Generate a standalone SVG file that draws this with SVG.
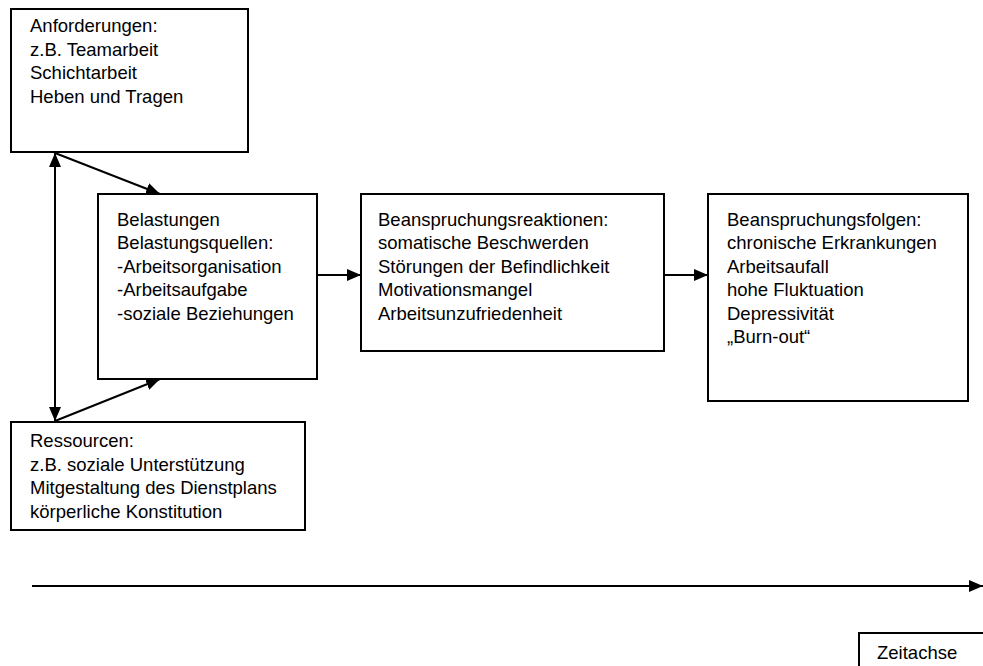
<svg xmlns="http://www.w3.org/2000/svg" width="983" height="666" viewBox="0 0 983 666">
<style>
.box{fill:#fff;stroke:#000;stroke-width:2}
.t{font-family:"Liberation Sans",Arial,sans-serif;font-size:18.5px;fill:#000}
.c{stroke:#000;stroke-width:2;fill:none}
</style>
<defs>
<marker id="ah" viewBox="0 0 14 12" refX="14" refY="6" markerWidth="14" markerHeight="12" markerUnits="userSpaceOnUse" orient="auto-start-reverse">
<path d="M0,0 L14,6 L0,12 Z" fill="#000"/>
</marker>
</defs>
<rect width="983" height="666" fill="#fff"/>
<g id="connectors">
<line class="c" x1="55" y1="153" x2="55" y2="421" marker-start="url(#ah)" marker-end="url(#ah)"/>
<line class="c" x1="55" y1="153" x2="160" y2="194" marker-end="url(#ah)"/>
<line class="c" x1="55" y1="421" x2="160" y2="379" marker-end="url(#ah)"/>
<line class="c" x1="317" y1="275" x2="361" y2="275" marker-end="url(#ah)"/>
<line class="c" x1="664" y1="275" x2="708" y2="275" marker-end="url(#ah)"/>
<line class="c" x1="32" y1="586" x2="983" y2="586" marker-end="url(#ah)"/>
</g>
<g id="anforderungen">
<rect class="box" x="11" y="9" width="237" height="143"/>
<text class="t" x="30" y="32">Anforderungen:</text>
<text class="t" x="30" y="55.5">z.B. Teamarbeit</text>
<text class="t" x="30" y="79">Schichtarbeit</text>
<text class="t" x="30" y="102.5">Heben und Tragen</text>
</g>
<g id="belastungen">
<rect class="box" x="98" y="194" width="219" height="185"/>
<text class="t" x="117" y="225.5">Belastungen</text>
<text class="t" x="117" y="249">Belastungsquellen:</text>
<text class="t" x="117" y="272.5">-Arbeitsorganisation</text>
<text class="t" x="117" y="296">-Arbeitsaufgabe</text>
<text class="t" x="117" y="319.5">-soziale Beziehungen</text>
</g>
<g id="reaktionen">
<rect class="box" x="361" y="194" width="303" height="157"/>
<text class="t" x="378" y="225.5">Beanspruchungsreaktionen:</text>
<text class="t" x="378" y="249">somatische Beschwerden</text>
<text class="t" x="378" y="272.5">Störungen der Befindlichkeit</text>
<text class="t" x="378" y="296">Motivationsmangel</text>
<text class="t" x="378" y="319.5">Arbeitsunzufriedenheit</text>
</g>
<g id="folgen">
<rect class="box" x="708" y="194" width="260" height="207"/>
<text class="t" x="727" y="225.5">Beanspruchungsfolgen:</text>
<text class="t" x="727" y="249">chronische Erkrankungen</text>
<text class="t" x="727" y="272.5">Arbeitsaufall</text>
<text class="t" x="727" y="296">hohe Fluktuation</text>
<text class="t" x="727" y="319.5">Depressivität</text>
<text class="t" x="727" y="343">„Burn-out“</text>
</g>
<g id="ressourcen">
<rect class="box" x="11" y="422" width="294" height="108"/>
<text class="t" x="30" y="447">Ressourcen:</text>
<text class="t" x="30" y="470.5">z.B. soziale Unterstützung</text>
<text class="t" x="30" y="494">Mitgestaltung des Dienstplans</text>
<text class="t" x="30" y="517.5">körperliche Konstitution</text>
</g>
<g id="zeitachse">
<rect class="box" x="859" y="633" width="140" height="45"/>
<text class="t" x="877" y="659">Zeitachse</text>
</g>
</svg>
